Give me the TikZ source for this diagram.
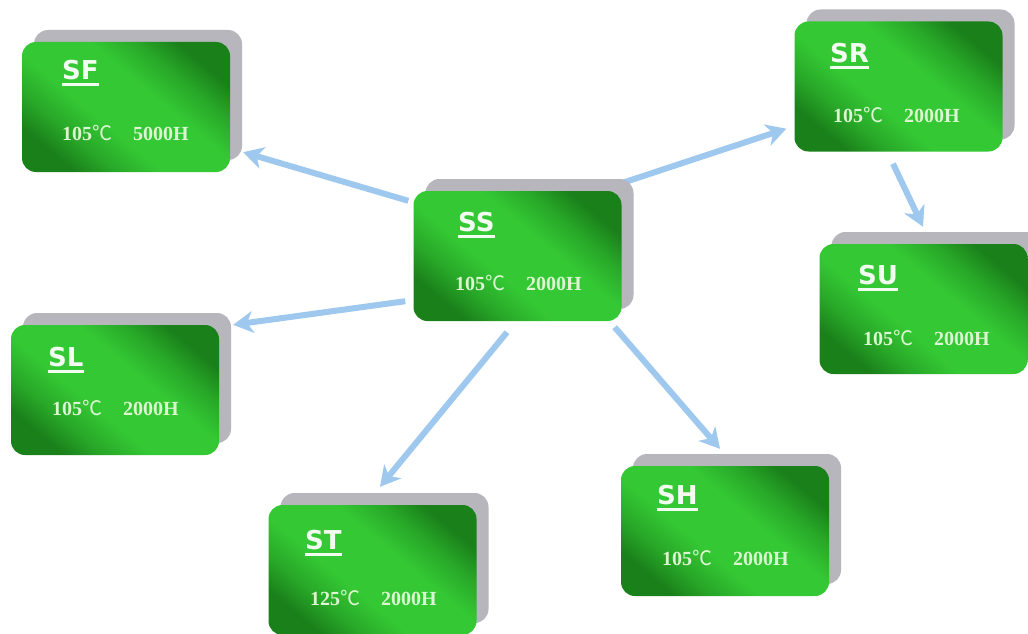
\documentclass[tikz,border=0pt]{standalone}
\usepackage{fontspec}
\setmainfont{Liberation Serif}
\newfontfamily\titlefont{DejaVu Sans}
\newfontfamily\cjkfont{Noto Sans CJK SC}
\usetikzlibrary{arrows.meta,calc}
\definecolor{gdark}{RGB}{26,128,26}
\definecolor{gmid}{RGB}{40,168,40}
\definecolor{gbright}{RGB}{52,200,52}
\definecolor{backgray}{RGB}{182,182,188}
\definecolor{arrowblue}{RGB}{158,200,238}
\definecolor{titlecol}{RGB}{242,252,240}
\definecolor{rowcol}{RGB}{220,246,210}
\pgfdeclareverticalshading{gboxshade}{100bp}{color(0bp)=(gdark); color(25bp)=(gdark); color(33bp)=(gmid); color(42bp)=(gbright); color(58bp)=(gbright); color(67bp)=(gmid); color(75bp)=(gdark); color(100bp)=(gdark)}
\pgfdeclarelayer{bg}
\pgfsetlayers{bg,main}
\tikzset{
  greenbox/.style={rectangle, rounded corners=14pt, minimum width=208pt, minimum height=130pt, inner sep=0pt, shade, shading=gboxshade, shading angle=-40},
  backbox/.style={rectangle, rounded corners=14pt, minimum width=208pt, minimum height=130pt, inner sep=0pt, fill=backgray},
  titletext/.style={anchor=west, inner sep=0pt, text=titlecol, font=\titlefont\bfseries\fontsize{26}{26}\selectfont},
  rowtext/.style={anchor=west, inner sep=0pt, text=rowcol, font=\bfseries\fontsize{20}{20}\selectfont},
  uline/.style={draw=titlecol, line width=3pt},
  link/.style={draw=arrowblue, line width=6pt, -{Stealth[length=20pt,width=22pt,inset=6pt]}}
}
\newcommand\celsiusmark{{\cjkfont\mdseries ℃}}
\newcommand\mkbox[9]{%
  \node[backbox] (#1b) at ($(#2,#3)+(12,-12)$) {};
  \node[greenbox] (#1) at (#2,#3) {};
  \node[titletext] (#1t) at (#5,#6) {#4};
  \draw[uline] ([yshift=-4.5pt]#1t.south west) -- ([yshift=-4.5pt]#1t.south east);
  \node[rowtext] (#1r) at (#8,#9) {#7};
}
\begin{document}
\begin{tikzpicture}[x=1pt,y=-1pt]
\useasboundingbox (0,0) rectangle (1028,634);
\clip (0,0) rectangle (1028,634);
\mkbox{sf}{126}{107}{SF}{62}{70}{105\celsiusmark\hspace{21pt}5000H}{62}{133}
\mkbox{ss}{517.5}{256}{SS}{458}{222}{105\celsiusmark\hspace{21pt}2000H}{455}{283}
\mkbox{sr}{898.5}{86.5}{SR}{830}{53}{105\celsiusmark\hspace{21pt}2000H}{833}{115}
\mkbox{su}{923.5}{309}{SU}{858}{275}{105\celsiusmark\hspace{21pt}2000H}{863}{338}
\mkbox{sl}{115}{390}{SL}{48}{357}{105\celsiusmark\hspace{21pt}2000H}{52}{408}
\mkbox{st}{372.5}{570}{ST}{305}{540}{125\celsiusmark\hspace{21pt}2000H}{310}{598}
\mkbox{sh}{725}{531}{SH}{657}{495}{105\celsiusmark\hspace{21pt}2000H}{662}{558}
\begin{pgfonlayer}{bg}
  \fill[white] (0,0) rectangle (1028,634);
  \draw[link] ($(ss.north west)+(-5,10)$) -- ($(sf.south east)+(13,-20)$);
  \draw[link] ($(ss.north east)+(1,-8)$) -- ($(sr.south west)+(-8,-23)$);
  \draw[link] ($(ss.south west)+(-8,-20)$) -- ($(sl.north east)+(14,0)$);
  \draw[link] ($(ss.south)+(-10.5,11)$) -- ($(st.north)+(7.5,-18)$);
  \draw[link] ($(ss.south east)+(-7,6)$) -- ($(sh.north)+(-5,-17)$);
  \draw[link] ($(sr.south)+(-5.5,12)$) -- ($(su.north)+(-0.5,-17)$);
\end{pgfonlayer}
\end{tikzpicture}
\end{document}
